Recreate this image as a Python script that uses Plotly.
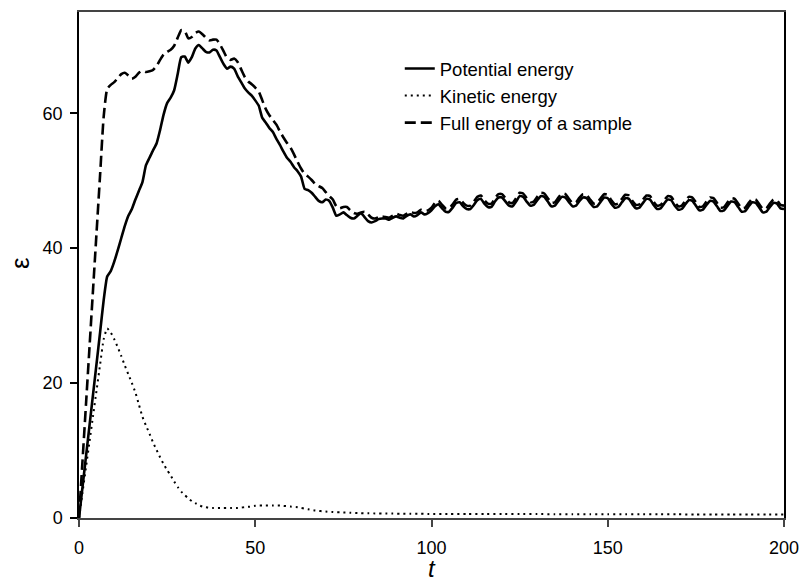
import plotly.graph_objects as go

t = list(range(0, 201))

potential = [
    0, 4.6, 9.2, 13.8, 18.4, 23.0, 27.6, 32.3, 35.8, 36.6, 38.0,
    39.7, 41.5, 43.3, 44.8, 45.8, 47.2, 48.5, 49.8, 52.3, 53.4,
    54.5, 55.5, 57.5, 59.8, 61.5, 62.3, 63.4, 65.8, 68.3, 68.4,
    67.5, 68.3, 69.6, 70.1, 69.6, 69.1, 69.0, 69.4, 69.3, 68.3,
    67.3, 66.6, 66.9, 66.6, 65.5, 64.6, 63.7, 63.1, 62.6, 61.9,
    61.1, 59.3, 58.6, 57.8, 57.2, 56.2, 55.3, 54.3, 53.4, 52.8,
    52.0, 51.4, 50.6, 48.8, 48.6, 48.2, 47.6, 47.0, 46.8, 47.2,
    47.0, 46.0, 44.8, 45.0, 45.3, 44.9, 44.5, 44.4, 44.8, 45.2,
    44.6, 44.0, 43.8, 44.0, 44.3, 44.4, 44.4, 44.2, 44.5, 44.7,
    44.5, 44.4, 44.8, 45.0, 44.7, 44.9, 45.3, 45.0, 45.2, 45.6,
    46.2, 46.5, 45.9, 45.4, 45.4, 46.0, 46.7, 46.8, 46.2, 45.8,
    45.8, 46.4, 47.1, 47.3, 46.6, 46.1, 46.1, 46.9, 47.5, 47.5,
    46.9, 46.3, 46.2, 46.9, 47.7, 47.6, 46.9, 46.3, 46.4, 47.1,
    47.7, 47.6, 46.9, 46.2, 46.3, 47.0, 47.6, 47.5, 46.8, 46.2,
    46.3, 47.0, 47.5, 47.4, 46.7, 46.1, 46.2, 46.9, 47.5, 47.4,
    46.6, 46.0, 46.1, 46.8, 47.4, 47.3, 46.5, 45.9, 46.0, 46.7,
    47.3, 47.2, 46.4, 45.8, 45.9, 46.6, 47.2, 47.1, 46.3, 45.7,
    45.8, 46.5, 47.1, 47.0, 46.3, 45.6, 45.7, 46.4, 47.0, 46.9,
    46.2, 45.5, 45.6, 46.3, 46.9, 46.8, 46.1, 45.4, 45.5, 46.2,
    46.8, 46.7, 46.0, 45.3, 45.4, 46.1, 46.7, 46.6, 45.9, 45.8,
]

full = [
    0, 8.5, 17.0, 25.5, 34.0, 42.5, 51.0, 59.5, 63.6, 64.2, 64.6,
    65.2, 65.8, 66.0, 65.6, 65.1, 65.4, 66.0, 66.3, 66.1, 66.2,
    66.4, 67.0, 67.9, 68.7, 69.1, 69.4, 70.0, 71.2, 72.3, 72.2,
    71.1, 71.3, 71.9, 72.1, 71.7, 71.2, 70.8, 70.9, 70.9, 70.2,
    69.2, 68.2, 67.9, 68.1, 67.6, 66.5, 65.4, 64.7, 64.3, 63.8,
    63.2, 61.9, 60.6, 59.7, 59.0, 58.3, 57.3, 56.4, 55.6, 54.9,
    53.9, 52.8, 51.8, 51.0, 50.6, 50.1, 49.5, 49.2, 48.9, 48.3,
    47.7, 47.2, 46.2, 45.9, 46.1, 46.1, 45.6, 45.2, 45.1, 45.3,
    45.4, 45.0, 44.5, 44.4, 44.6, 44.7, 44.6, 44.5, 44.8, 45.1,
    44.9, 44.8, 45.1, 45.4, 45.2, 45.3, 45.7, 45.5, 45.6, 46.0,
    46.7, 47.0, 46.4, 45.9, 45.9, 46.5, 47.2, 47.3, 46.7, 46.3,
    46.3, 46.9, 47.6, 47.8, 47.1, 46.6, 46.6, 47.4, 48.0, 48.0,
    47.4, 46.8, 46.7, 47.4, 48.2, 48.1, 47.4, 46.8, 46.9, 47.6,
    48.2, 48.1, 47.4, 46.7, 46.8, 47.5, 48.1, 48.0, 47.3, 46.7,
    46.8, 47.5, 48.0, 47.9, 47.2, 46.6, 46.7, 47.4, 48.0, 47.9,
    47.1, 46.5, 46.6, 47.3, 47.9, 47.8, 47.0, 46.4, 46.5, 47.2,
    47.8, 47.7, 46.9, 46.3, 46.4, 47.1, 47.7, 47.6, 46.8, 46.2,
    46.3, 47.0, 47.6, 47.5, 46.8, 46.1, 46.2, 46.9, 47.5, 47.4,
    46.7, 46.0, 46.1, 46.8, 47.4, 47.3, 46.6, 45.9, 46.0, 46.7,
    47.3, 47.2, 46.5, 45.8, 45.9, 46.6, 47.2, 47.1, 46.4, 46.3,
]

t_kin = list(range(0, 101)) + [105, 110, 115, 120, 125, 130, 135, 140, 145, 150,
                               155, 160, 165, 170, 175, 180, 185, 190, 195, 200]
kinetic = [
    0, 3.8, 7.6, 11.4, 15.2, 19.0, 22.8, 26.5, 28.1, 27.5, 26.5,
    25.3, 24.0, 22.6, 21.3, 20.0, 18.6, 16.8, 15.0, 13.7, 12.5,
    11.2, 10.1, 9.0, 8.0, 7.1, 6.3, 5.4, 4.6, 3.9, 3.4,
    2.9, 2.5, 2.2, 1.9, 1.7, 1.6, 1.5, 1.5, 1.5, 1.5,
    1.5, 1.5, 1.5, 1.5, 1.5, 1.55, 1.6, 1.65, 1.7, 1.8,
    1.85, 1.85, 1.85, 1.85, 1.85, 1.85, 1.85, 1.8, 1.75, 1.7,
    1.65, 1.6, 1.5, 1.4, 1.3, 1.2, 1.1, 1.05, 1.0, 0.95,
    0.9, 0.9, 0.85, 0.85, 0.8, 0.8, 0.78, 0.76, 0.74, 0.72,
    0.7, 0.7, 0.69, 0.68, 0.68, 0.67, 0.66, 0.66, 0.65, 0.65,
    0.64, 0.64, 0.63, 0.63, 0.62, 0.62, 0.62, 0.61, 0.61, 0.6,
    0.6, 0.6, 0.59, 0.59, 0.58, 0.58, 0.57, 0.57, 0.56, 0.56,
    0.55, 0.55, 0.54, 0.54, 0.53, 0.53, 0.52, 0.52, 0.51, 0.51,
]

x_ticks = [0, 50, 100, 150, 200]
y_ticks = [0, 20, 40, 60]

FONT = "Liberation Sans, Arial, sans-serif"

fig = go.Figure()
fig.add_trace(go.Scatter(x=t, y=potential, mode="lines", name="Potential energy",
                         line=dict(color="black", width=2.6, shape="spline", smoothing=0.5)))
fig.add_trace(go.Scatter(x=t_kin, y=kinetic, mode="lines", name="Kinetic energy",
                         line=dict(color="black", width=2, dash="2px,4px", shape="spline", smoothing=0.5)))
fig.add_trace(go.Scatter(x=t, y=full, mode="lines", name="Full energy of a sample",
                         line=dict(color="black", width=2.6, dash="11px,5px", shape="spline", smoothing=0.5)))

fig.update_layout(
    width=802, height=584,
    margin=dict(l=79, r=18, t=12, b=66, autoexpand=False),
    paper_bgcolor="white", plot_bgcolor="white",
    font=dict(family=FONT, size=18, color="black"),
    showlegend=True,
    legend=dict(x=0.455, y=0.925, xanchor="left", yanchor="top",
                bgcolor="rgba(0,0,0,0)", font=dict(size=18.5, family=FONT),
                tracegroupgap=0),
    annotations=[
        dict(text="ε", xref="paper", yref="paper", x=-0.0837, y=0.504,
             showarrow=False, textangle=-90, font=dict(size=26, family=FONT),
             xanchor="center", yanchor="middle"),
        dict(text="<i>t</i>", xref="paper", yref="paper", x=0.5007, y=-0.1304,
             showarrow=False, font=dict(size=24, family=FONT),
             xanchor="center", yanchor="bottom"),
    ],
)
fig.update_xaxes(
    range=[0, 200], tickvals=x_ticks, ticks="outside", ticklen=7, tickwidth=1.5,
    tickcolor="#444", showline=True, linecolor="#444", linewidth=2, mirror=True,
    showgrid=False, zeroline=False, tickfont=dict(size=18), automargin=False,
    ticklabelstandoff=5,
)
fig.update_yaxes(
    range=[0, 75], tickvals=y_ticks, ticks="outside", ticklen=7, tickwidth=1.5,
    tickcolor="black", showline=True, linecolor="black", linewidth=1.5, mirror=True,
    showgrid=False, zeroline=False, tickfont=dict(size=18), automargin=False,
    ticklabelstandoff=4,
)

fig.write_html("out.html",
               config={"displayModeBar": False},
               post_script="document.body.style.margin='0';document.body.style.overflow='hidden';")
